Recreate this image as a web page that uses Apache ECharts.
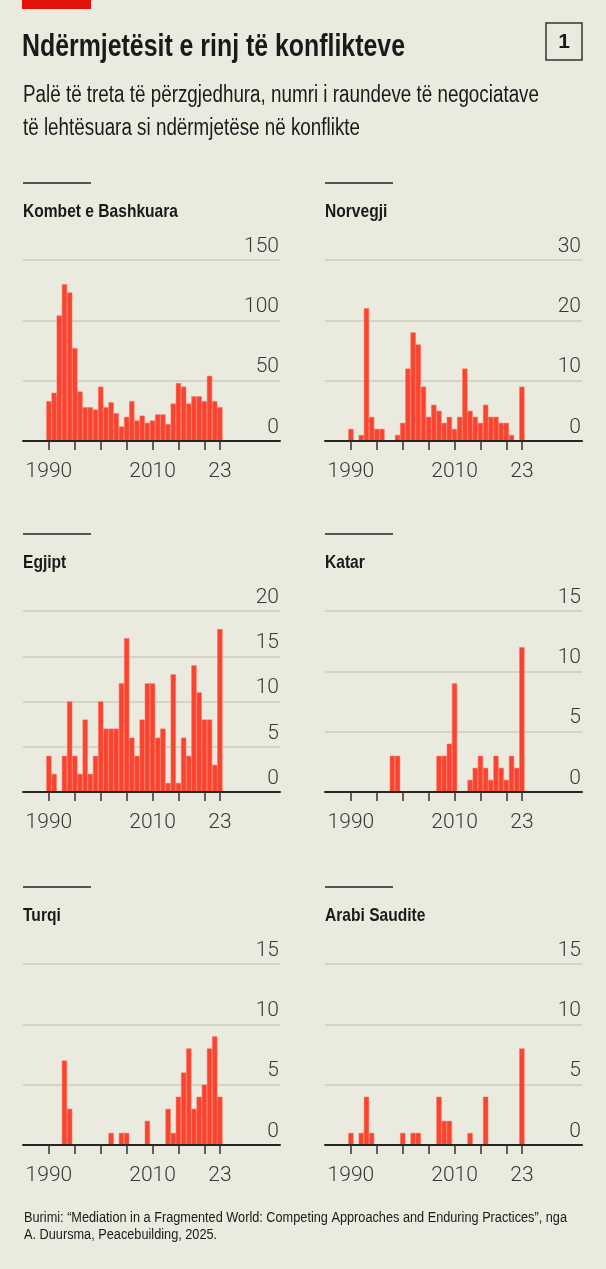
<!DOCTYPE html>
<html>
<head>
<meta charset="utf-8">
<script src="https://cdn.jsdelivr.net/npm/echarts@6/dist/echarts.min.js"></script>
<style>
  html, body { margin: 0; padding: 0; background: #ebeadf; }
  #chart { width: 606px; height: 1269px; }
</style>
</head>
<body>
<div id="chart"></div>
<script>
/* global echarts */

const YEARS = [
  1990, 1991, 1992, 1993, 1994, 1995, 1996, 1997, 1998, 1999,
  2000, 2001, 2002, 2003, 2004, 2005, 2006, 2007, 2008, 2009,
  2010, 2011, 2012, 2013, 2014, 2015, 2016, 2017, 2018, 2019,
  2020, 2021, 2022, 2023,
];

const UN_ROUNDS = [
  33, 40, 104, 130, 123, 77, 41, 28, 28, 26,
  45, 28, 32, 23, 12, 20, 33, 17, 21, 15,
  17, 22, 22, 14, 31, 48, 45, 31, 37, 37,
  33, 54, 33, 28,
];
const NORWAY_ROUNDS = [
  2, 0, 1, 22, 4, 2, 2, 0, 0, 1,
  3, 12, 18, 16, 9, 4, 6, 5, 3, 4,
  2, 4, 12, 5, 4, 3, 6, 4, 4, 3,
  3, 1, 0, 9,
];
const EGYPT_ROUNDS = [
  4, 2, 0, 4, 10, 4, 2, 8, 2, 4,
  10, 7, 7, 7, 12, 17, 6, 4, 8, 12,
  12, 6, 7, 1, 13, 1, 6, 4, 14, 11,
  8, 8, 3, 18,
];
const QATAR_ROUNDS = [
  0, 0, 0, 0, 0, 0, 0, 0, 3, 3,
  0, 0, 0, 0, 0, 0, 0, 3, 3, 4,
  9, 0, 0, 1, 2, 3, 2, 1, 3, 2,
  1, 3, 2, 12,
];
const TURKEY_ROUNDS = [
  0, 0, 0, 7, 3, 0, 0, 0, 0, 0,
  0, 0, 1, 0, 1, 1, 0, 0, 0, 2,
  0, 0, 0, 3, 1, 4, 6, 8, 3, 4,
  5, 8, 9, 4,
];
const SAUDI_ROUNDS = [
  1, 0, 1, 4, 1, 0, 0, 0, 0, 0,
  1, 0, 1, 1, 0, 0, 0, 4, 2, 2,
  0, 0, 0, 1, 0, 0, 4, 0, 0, 0,
  0, 0, 0, 8,
];

const PANEL_TITLES = ["Kombet e Bashkuara", "Norvegji", "Egjipt", "Katar", "Turqi", "Arabi Saudite"];
const PANEL_VALUES = [UN_ROUNDS, NORWAY_ROUNDS, EGYPT_ROUNDS, QATAR_ROUNDS, TURKEY_ROUNDS, SAUDI_ROUNDS];
const Y_MAX = [150, 30, 20, 15, 15, 15];
const Y_STEP = [50, 10, 5, 5, 5, 5];
const X_TICKS = [1990, 1995, 2000, 2005, 2010, 2015, 2020, 2023];
const X_LABELS = [1990, 2010, 2023];

const TITLE = "Ndërmjetësit e rinj të konflikteve";
const SUBTITLE = ["Palë të treta të përzgjedhura, numri i raundeve të negociatave", "të lehtësuara si ndërmjetëse në konflikte"];
const SOURCE = [
  "Burimi: “Mediation in a Fragmented World: Competing Approaches and Enduring Practices”, nga",
  "A. Duursma, Peacebuilding, 2025.",
];

const BG = "#ebeadf";
const BAR_COLOR = "#fb4430";
const INK = "#1a1a1a";
const AXIS_INK = "#383838";
const SANS = "'Liberation Sans', Arial, sans-serif";
const NUM_FONT = "Roboto, 'Liberation Sans', sans-serif";

const COL_LEFT = [23, 325];
const ROW_TOP = [260, 611, 964];
const PLOT_W = 257;
const PLOT_H = 181;

// no narrow face installed, so squeeze regular glyphs to the width of the original lettering
const measureCtx = document.createElement("canvas").getContext("2d");
function squeezeFor(text, font, targetWidth) {
  measureCtx.font = font;
  return targetWidth / measureCtx.measureText(text).width;
}

function narrowText(x, y, text, font, scaleX) {
  return {
    type: "text",
    x,
    y,
    scaleX,
    style: { x: 0, y: 0, text, font, fill: INK, verticalAlign: "middle" },
  };
}

const TITLE_FONT = `bold 31px ${SANS}`;
const SUB_FONT = `23px ${SANS}`;
const PANEL_FONT = `bold 19px ${SANS}`;
const SOURCE_FONT = `14px ${SANS}`;

const titleScale = squeezeFor(TITLE, TITLE_FONT, 383);
const subScale = squeezeFor(SUBTITLE[0], SUB_FONT, 516);
const panelScale = squeezeFor(PANEL_TITLES[0], PANEL_FONT, 155);
const sourceScale = squeezeFor(SOURCE[0], SOURCE_FONT, 543);

const chart = echarts.init(document.getElementById("chart"), null, { renderer: "canvas" });

const grids = [];
const xAxes = [];
const yAxes = [];
const series = [];
const graphics = [];

graphics.push({ type: "rect", shape: { x: 22, y: 0, width: 69, height: 9 }, style: { fill: "#e3120b" } });
graphics.push(narrowText(22, 47, TITLE, TITLE_FONT, titleScale));
graphics.push({
  type: "rect",
  shape: { x: 546, y: 23, width: 36, height: 37 },
  style: { fill: "none", stroke: "#333", lineWidth: 1.5 },
});
graphics.push({
  type: "text",
  style: { x: 564, y: 42, text: "1", font: `bold 21px ${SANS}`, fill: INK, align: "center", verticalAlign: "middle" },
});
SUBTITLE.forEach((line, i) => {
  graphics.push(narrowText(23, 96 + i * 33, line, SUB_FONT, subScale));
});
SOURCE.forEach((line, i) => {
  graphics.push(narrowText(24, 1218 + i * 17, line, SOURCE_FONT, sourceScale));
});

PANEL_VALUES.forEach((values, idx) => {
  const col = idx % 2;
  const row = Math.floor(idx / 2);
  const left = COL_LEFT[col];
  const top = ROW_TOP[row];

  graphics.push({
    type: "line",
    shape: { x1: left, y1: top - 77, x2: left + 68, y2: top - 77 },
    style: { stroke: "#555", lineWidth: 2 },
  });
  graphics.push(narrowText(left, top - 48.5, PANEL_TITLES[idx], PANEL_FONT, panelScale));

  grids.push({ left, top, width: PLOT_W, height: PLOT_H });
  xAxes.push({
    type: "value",
    gridIndex: idx,
    min: 1985,
    max: 2034.6,
    z: 5,
    splitLine: { show: false },
    axisLine: { show: true, onZero: true, lineStyle: { color: "#262626", width: 2 } },
    axisTick: { show: true, length: 9, customValues: X_TICKS, lineStyle: { color: "#333", width: 1.5 } },
    axisLabel: {
      customValues: X_LABELS,
      margin: 20,
      fontSize: 21,
      lineHeight: 21,
      fontFamily: NUM_FONT,
      fontWeight: 300,
      color: AXIS_INK,
      formatter: (v) => (v === 2023 ? "23" : String(v)),
    },
  });
  yAxes.push({
    type: "value",
    gridIndex: idx,
    position: "right",
    min: 0,
    max: Y_MAX[idx],
    interval: Y_STEP[idx],
    axisLine: { show: false },
    axisTick: { show: false },
    splitLine: { lineStyle: { color: "#cdcbc1", width: 1.5 } },
    axisLabel: {
      inside: true,
      margin: 1,
      fontSize: 21,
      lineHeight: 21,
      fontFamily: NUM_FONT,
      fontWeight: 300,
      color: AXIS_INK,
      verticalAlign: "bottom",
      padding: [0, 0, 3, 0],
    },
  });
  series.push({
    type: "bar",
    xAxisIndex: idx,
    yAxisIndex: idx,
    barWidth: 5.2,
    itemStyle: { color: BAR_COLOR, borderColor: "#ff6d58", borderWidth: 0.5 },
    data: YEARS.map((year, i) => [year, values[i] === 0 ? null : values[i]]),
  });
});

chart.setOption({
  animation: false,
  backgroundColor: BG,
  grid: grids,
  xAxis: xAxes,
  yAxis: yAxes,
  series,
  graphic: graphics,
});
</script>
</body>
</html>
